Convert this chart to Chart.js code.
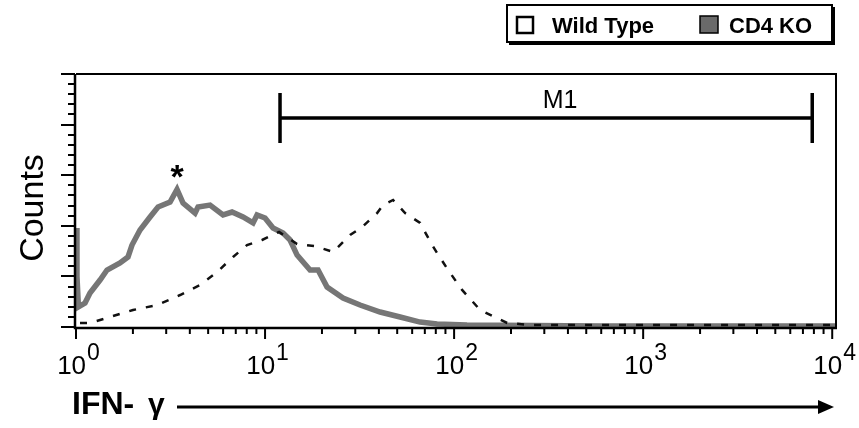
<!DOCTYPE html>
<html>
<head>
<meta charset="utf-8">
<script src="https://cdn.jsdelivr.net/npm/chart.js@4.4.1/dist/chart.umd.min.js"></script>
<style>
  html, body { margin: 0; padding: 0; background: #fff; }
  #wrap { width: 859px; height: 428px; }
</style>
</head>
<body>
<div id="wrap"><canvas id="chart" width="859" height="428"></canvas></div>
<script>
// IFN-gamma histogram (x = fluorescence, y = counts)
const wtX = [1.05, 1.186, 1.513, 2.002, 2.683, 3.551, 4.53, 5.572, 6.771, 8.032, 9.64, 11.86, 14.77, 18.39, 22.9, 28.17, 32.61, 39.14, 42.1, 47.56, 55.05, 66.1, 76.5, 81.3, 92.96, 110.2, 137.3, 190.7, 252.5, 10600];
const wtY = [4, 4, 9.9, 16.8, 21.7, 31.6, 41.5, 54.3, 69.2, 81, 86, 93.9, 82, 80, 74.1, 90.9, 98.8, 112.6, 120.5, 125.5, 112.6, 102.8, 81, 73.1, 56.3, 36.6, 16.8, 4, 2, 2];

const koX = [1.0, 1.012, 1.03, 1.116, 1.186, 1.34, 1.459, 1.709, 1.884, 1.978, 2.181, 2.464, 2.716, 3.144, 3.423, 3.683, 4.263, 4.42, 5.117, 5.995, 6.69, 7.65, 8.64, 9.07, 10.0, 11.02, 12.45, 13.56, 14.77, 17.3, 19.07, 21.28, 25.86, 31.8, 40.6, 51.8, 66.1, 81.3, 117, 592, 10600];
const koY = [97.8, 50, 19.8, 23.7, 33.6, 46.4, 56.3, 63.2, 69.2, 81, 95.8, 108.7, 118.6, 123.5, 136, 122.5, 112.6, 118.6, 120.5, 110.7, 113.6, 108.7, 102.8, 110.7, 107.7, 97.8, 92.9, 86, 71.1, 56.3, 56.3, 39.5, 28.7, 21.7, 14.8, 9.9, 4.9, 3, 2, 1, 1];

const xDecades = [1, 10, 100, 1000, 10000];
const xExponents = ['0', '1', '2', '3', '4'];
const yMajorStep = 50;
const yMinorStep = 10;
const m1Range = [12, 7840];
const peakMarkX = 3.423;

const labels = ['Wild Type', 'CD4 KO'];

function toPoints(xs, ys) {
  return xs.map((x, i) => ({ x: x, y: ys[i] }));
}

const overlay = {
  id: 'overlay',
  afterDraw(chart) {
    const ctx = chart.ctx;
    const xs = chart.scales.x;
    const ys = chart.scales.y;
    const a = chart.chartArea;
    ctx.save();
    ctx.fillStyle = '#000';
    ctx.strokeStyle = '#000';

    // frame
    ctx.lineWidth = 2;
    ctx.beginPath();
    ctx.moveTo(a.left, a.top); ctx.lineTo(a.right - 1, a.top);
    ctx.lineTo(a.right - 1, a.bottom);
    ctx.stroke();
    ctx.lineWidth = 2.5;
    ctx.beginPath();
    ctx.moveTo(a.left - 1, a.top); ctx.lineTo(a.left - 1, a.bottom + 1);
    ctx.lineTo(a.right, a.bottom + 1);
    ctx.stroke();

    // y ticks (left, outside)
    ctx.lineWidth = 2;
    for (let v = 0; v <= ys.max + 0.01; v += yMinorStep) {
      const py = Math.round(ys.getPixelForValue(v));
      const len = (v % yMajorStep === 0) ? 14 : 7;
      ctx.beginPath();
      ctx.moveTo(a.left - 1, py); ctx.lineTo(a.left - 1 - len, py);
      ctx.stroke();
    }

    // x ticks (below, log)
    xDecades.forEach((d, i) => {
      const px = xs.getPixelForValue(d);
      ctx.beginPath();
      ctx.moveTo(px, a.bottom); ctx.lineTo(px, a.bottom + 12);
      ctx.stroke();
      if (i < xDecades.length - 1) {
        for (let k = 2; k <= 9; k++) {
          const pm = xs.getPixelForValue(d * k);
          ctx.beginPath();
          ctx.moveTo(pm, a.bottom); ctx.lineTo(pm, a.bottom + 7);
          ctx.stroke();
        }
      }
    });

    // x tick labels 10^n
    xDecades.forEach((d, i) => {
      const px = xs.getPixelForValue(d);
      ctx.font = '26px "Liberation Sans", Arial, sans-serif';
      const w1 = ctx.measureText('10').width;
      ctx.font = '23px "Liberation Sans", Arial, sans-serif';
      const w2 = ctx.measureText(xExponents[i]).width;
      const start = px - (w1 + w2) / 2 + 2;
      ctx.textBaseline = 'alphabetic';
      ctx.textAlign = 'left';
      ctx.font = '26px "Liberation Sans", Arial, sans-serif';
      ctx.fillText('10', start, 374);
      ctx.font = '23px "Liberation Sans", Arial, sans-serif';
      ctx.fillText(xExponents[i], start + w1 + 1, 360);
    });

    // Counts
    ctx.save();
    ctx.translate(43, 208);
    ctx.rotate(-Math.PI / 2);
    ctx.textAlign = 'center';
    ctx.font = '34px "Liberation Sans", Arial, sans-serif';
    ctx.fillText('Counts', 0, 0);
    ctx.restore();

    // IFN-γ with arrow
    ctx.textAlign = 'left';
    ctx.font = 'bold 32px "Liberation Sans", Arial, sans-serif';
    ctx.fillText('IFN-', 72, 414);
    ctx.font = 'bold 30px "Liberation Sans", Arial, sans-serif';
    ctx.fillText('γ', 148, 414);
    ctx.lineWidth = 3;
    ctx.beginPath();
    ctx.moveTo(177, 407); ctx.lineTo(822, 407);
    ctx.stroke();
    ctx.beginPath();
    ctx.moveTo(834, 407); ctx.lineTo(818, 400); ctx.lineTo(818, 414);
    ctx.closePath();
    ctx.fill();

    // M1 marker
    const m1l = xs.getPixelForValue(m1Range[0]);
    const m1r = xs.getPixelForValue(m1Range[1]);
    ctx.lineWidth = 3.5;
    ctx.beginPath();
    ctx.moveTo(m1l, 118); ctx.lineTo(m1r, 118);
    ctx.moveTo(m1l, 93); ctx.lineTo(m1l, 143);
    ctx.moveTo(m1r, 93); ctx.lineTo(m1r, 143);
    ctx.stroke();
    ctx.textAlign = 'center';
    ctx.font = '25px "Liberation Sans", Arial, sans-serif';
    ctx.fillText('M1', (m1l + m1r) / 2 + 14, 108);

    // asterisk over the KO peak
    ctx.font = 'bold 34px "Liberation Sans", Arial, sans-serif';
    ctx.fillText('*', xs.getPixelForValue(peakMarkX), 188);

    // legend box
    ctx.fillStyle = '#000';
    ctx.fillRect(509, 7, 326, 38);
    ctx.fillStyle = '#fff';
    ctx.fillRect(507, 5, 325, 37);
    ctx.lineWidth = 2;
    ctx.strokeRect(507, 5, 325, 37);
    ctx.fillStyle = '#fff';
    ctx.fillRect(517, 17, 16, 16);
    ctx.lineWidth = 2.5;
    ctx.strokeRect(517, 17, 16, 16);
    ctx.fillStyle = '#6a6a6a';
    ctx.fillRect(700, 16, 18, 17);
    ctx.lineWidth = 1.5;
    ctx.strokeRect(700, 16, 18, 17);
    ctx.fillStyle = '#000';
    ctx.textAlign = 'left';
    ctx.font = 'bold 22px "Liberation Sans", Arial, sans-serif';
    ctx.fillText(labels[0], 552, 33);
    ctx.fillText(labels[1], 729, 33);

    ctx.restore();
  }
};

new Chart(document.getElementById('chart'), {
  type: 'line',
  data: {
    datasets: [
      {
        label: labels[0],
        data: toPoints(wtX, wtY),
        borderColor: '#111',
        borderWidth: 2.5,
        borderDash: [7, 10],
        pointRadius: 0,
        tension: 0,
        order: 1
      },
      {
        label: labels[1],
        data: toPoints(koX, koY),
        borderColor: '#767676',
        borderWidth: 5.5,
        pointRadius: 0,
        tension: 0,
        order: 2
      }
    ]
  },
  options: {
    responsive: false,
    devicePixelRatio: 1,
    animation: false,
    layout: { padding: { left: 76, right: 22, top: 74, bottom: 101 } },
    plugins: { legend: { display: false }, tooltip: { enabled: false } },
    scales: {
      x: { type: 'logarithmic', min: 1, max: 10600, display: false },
      y: { type: 'linear', min: 0, max: 250, display: false }
    }
  },
  plugins: [overlay]
});
</script>
</body>
</html>
